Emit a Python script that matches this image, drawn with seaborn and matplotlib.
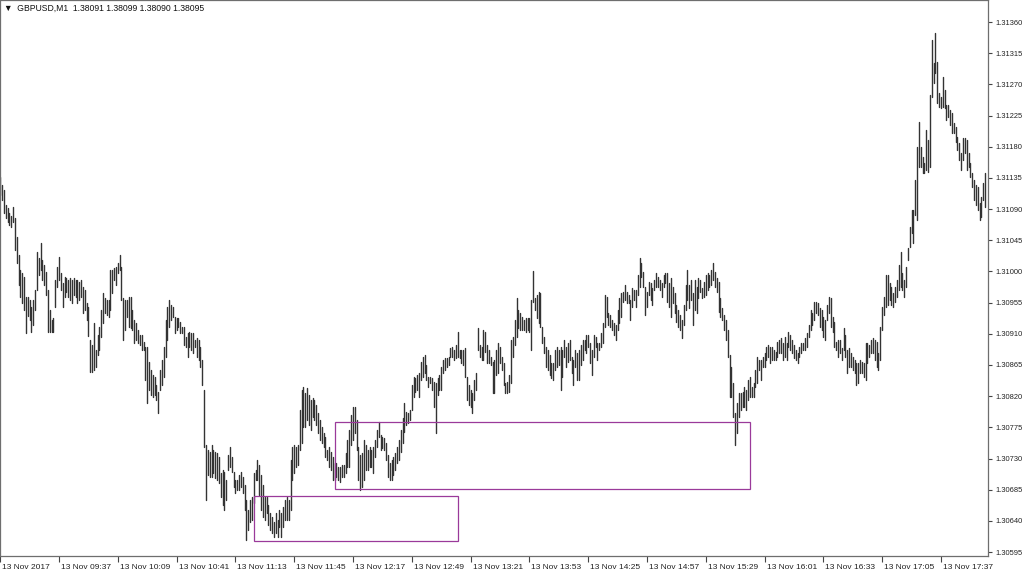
import numpy as np
import pandas as pd
import matplotlib
matplotlib.use("Agg")
import matplotlib.pyplot as plt
import matplotlib.transforms as mtransforms
from matplotlib.patches import Rectangle
import seaborn as sns

sns.set_style("ticks")
plt.rcParams['font.family'] = ['Liberation Sans', 'DejaVu Sans']

# ---------------- data (GBPUSD M1, prices as points above 1.30000) ----------------
base_price = 1.30000
point = 0.00001

high_pts = [
    1136, 1125, 1118, 1096, 1092, 1084, 1080, 1093, 1077, 1050,
    1024, 1002, 998, 992, 963, 963, 959, 949, 959, 973,
    1028, 1019, 1041, 1017, 1009, 999, 973, 944, 930, 933,
    988, 1006, 1021, 998, 983, 992, 990, 988, 990, 988,
    990, 988, 988, 985, 988, 977, 973, 954, 949, 901,
    894, 926, 887, 908, 920, 944, 969, 962, 959, 959,
    1002, 1002, 1005, 1006, 1012, 1024, 1006, 962, 959, 959,
    963, 963, 944, 930, 926, 915, 908, 908, 898, 891,
    891, 869, 858, 851, 848, 836, 826, 858, 872, 891,
    930, 949, 959, 952, 949, 934, 933, 933, 927, 920,
    920, 905, 911, 913, 911, 911, 901, 904, 901, 891,
    872, 829, 749, 742, 739, 749, 742, 739, 738, 732,
    709, 713, 710, 699, 735, 747, 732, 711, 699, 699,
    706, 710, 703, 692, 670, 656, 670, 675, 709, 713,
    728, 721, 706, 692, 675, 675, 663, 652, 646, 638,
    652, 641, 656, 651, 660, 670, 675, 670, 728, 747,
    750, 747, 750, 800, 829, 833, 824, 832, 822, 814,
    817, 814, 807, 796, 786, 775, 767, 761, 742, 747,
    739, 732, 724, 724, 718, 718, 721, 721, 738, 757,
    771, 793, 804, 804, 786, 747, 735, 738, 757, 749,
    742, 747, 742, 747, 757, 771, 783, 764, 761, 760,
    752, 735, 724, 728, 732, 738, 747, 757, 771, 788,
    810, 797, 796, 800, 836, 848, 846, 851, 853, 869,
    877, 879, 865, 848, 848, 846, 840, 839, 846, 851,
    862, 872, 875, 875, 877, 889, 891, 887, 894, 913,
    887, 887, 887, 889, 848, 836, 829, 825, 843, 853,
    918, 894, 891, 915, 913, 894, 887, 877, 869, 872,
    887, 897, 891, 877, 868, 839, 840, 851, 901, 905,
    930, 962, 944, 940, 934, 930, 933, 933, 933, 959,
    1000, 962, 966, 970, 969, 920, 905, 891, 887, 879,
    868, 868, 887, 891, 887, 891, 887, 901, 891, 897,
    901, 877, 872, 887, 882, 887, 894, 901, 901, 908,
    908, 897, 887, 908, 905, 897, 897, 911, 926, 966,
    963, 940, 937, 930, 926, 923, 944, 962, 969, 970,
    980, 970, 966, 959, 976, 973, 973, 995, 1019, 1012,
    999, 977, 970, 985, 983, 976, 988, 998, 992, 988,
    983, 995, 998, 998, 983, 990, 977, 969, 952, 944,
    937, 930, 952, 980, 1002, 980, 988, 969, 988, 977,
    990, 988, 976, 985, 995, 998, 995, 1002, 1012, 999,
    990, 985, 962, 947, 937, 930, 915, 879, 862, 839,
    796, 810, 825, 825, 826, 833, 829, 843, 848, 833,
    839, 858, 877, 872, 872, 877, 882, 891, 894, 891,
    891, 887, 884, 898, 901, 904, 897, 905, 897, 913,
    908, 901, 894, 887, 882, 891, 897, 897, 904, 911,
    923, 944, 940, 956, 956, 954, 947, 944, 934, 930,
    952, 963, 962, 934, 927, 898, 901, 901, 889, 918,
    908, 887, 889, 882, 877, 872, 868, 868, 872, 869,
    868, 897, 897, 894, 901, 904, 901, 898, 882, 920,
    949, 963, 995, 995, 983, 977, 969, 977, 988, 1009,
    1028, 998, 988, 1006, 1034, 1064, 1089, 1089, 1132, 1180,
    1216, 1180, 1165, 1157, 1204, 1190, 1254, 1334, 1301, 1344,
    1302, 1258, 1252, 1281, 1262, 1240, 1240, 1233, 1229, 1214,
    1208, 1194, 1185, 1171, 1193, 1193, 1190, 1171, 1157, 1142,
    1132, 1125, 1122, 1099, 1108, 1128, 1142,
]

low_pts = [
    1110, 1103, 1084, 1077, 1071, 1067, 1064, 1071, 1031, 1012,
    980, 963, 954, 944, 911, 935, 930, 913, 923, 944,
    973, 995, 1002, 988, 980, 966, 912, 912, 912, 913,
    949, 977, 988, 973, 949, 963, 970, 963, 959, 954,
    966, 963, 954, 959, 963, 940, 944, 930, 907, 855,
    855, 858, 862, 879, 887, 905, 926, 940, 937, 934,
    944, 969, 988, 980, 998, 1002, 959, 901, 915, 934,
    920, 918, 915, 897, 901, 897, 894, 887, 887, 843,
    810, 829, 822, 819, 822, 814, 796, 829, 836, 848,
    877, 901, 920, 930, 934, 911, 915, 920, 911, 911,
    894, 891, 877, 891, 887, 882, 891, 877, 872, 862,
    836, 747, 670, 706, 703, 703, 709, 702, 699, 695,
    675, 663, 656, 670, 713, 718, 711, 689, 680, 685,
    685, 689, 680, 656, 612, 627, 638, 641, 666, 699,
    699, 677, 656, 646, 641, 652, 634, 627, 623, 617,
    623, 617, 631, 617, 631, 641, 641, 641, 656, 699,
    709, 718, 721, 742, 752, 776, 776, 786, 778, 771,
    790, 786, 778, 767, 757, 752, 747, 732, 728, 718,
    713, 699, 699, 703, 699, 696, 703, 703, 709, 718,
    718, 749, 757, 767, 742, 699, 685, 689, 699, 713,
    713, 718, 718, 709, 732, 747, 761, 742, 745, 742,
    728, 703, 699, 699, 706, 713, 724, 728, 739, 752,
    768, 778, 781, 786, 800, 819, 826, 829, 819, 843,
    848, 853, 843, 833, 839, 829, 804, 767, 822, 829,
    829, 853, 858, 862, 865, 876, 876, 872, 875, 876,
    875, 868, 865, 848, 814, 807, 804, 796, 814, 829,
    887, 876, 872, 872, 884, 868, 868, 865, 825, 825,
    851, 853, 868, 858, 836, 825, 825, 826, 839, 876,
    894, 905, 918, 915, 915, 915, 913, 915, 913, 887,
    956, 944, 933, 926, 920, 897, 882, 862, 858, 851,
    846, 843, 858, 862, 865, 829, 848, 876, 862, 869,
    872, 853, 836, 862, 843, 843, 865, 872, 887, 882,
    891, 868, 851, 876, 891, 872, 887, 891, 897, 920,
    934, 923, 920, 915, 908, 901, 915, 926, 934, 956,
    959, 954, 954, 930, 949, 959, 949, 966, 977, 992,
    977, 937, 949, 966, 959, 952, 973, 977, 977, 973,
    963, 977, 983, 956, 949, 934, 954, 940, 927, 920,
    915, 904, 923, 944, 959, 947, 959, 923, 944, 940,
    962, 970, 962, 963, 966, 973, 977, 980, 988, 977,
    970, 941, 934, 930, 915, 901, 876, 819, 819, 790,
    750, 767, 790, 800, 804, 804, 800, 814, 819, 819,
    819, 833, 839, 858, 843, 862, 862, 872, 876, 868,
    872, 872, 872, 876, 882, 882, 872, 877, 872, 891,
    887, 882, 875, 872, 868, 876, 882, 887, 887, 891,
    905, 915, 923, 930, 940, 937, 920, 915, 905, 901,
    930, 940, 920, 913, 891, 887, 877, 882, 872, 887,
    877, 853, 862, 862, 858, 853, 836, 839, 853, 853,
    848, 843, 868, 876, 882, 882, 872, 862, 858, 872,
    915, 937, 949, 952, 959, 952, 949, 956, 963, 973,
    977, 973, 963, 977, 1017, 1035, 1055, 1041, 1081, 1074,
    1151, 1151, 1142, 1142, 1146, 1143, 1151, 1252, 1272, 1286,
    1243, 1237, 1236, 1237, 1236, 1219, 1223, 1211, 1200, 1200,
    1187, 1175, 1161, 1146, 1161, 1171, 1146, 1151, 1136, 1122,
    1103, 1096, 1089, 1074, 1079, 1103, 1093,
]

time_labels = ["13 Nov 2017", "13 Nov 09:37", "13 Nov 10:09", "13 Nov 10:41",
               "13 Nov 11:13", "13 Nov 11:45", "13 Nov 12:17", "13 Nov 12:49",
               "13 Nov 13:21", "13 Nov 13:53", "13 Nov 14:25", "13 Nov 14:57",
               "13 Nov 15:29", "13 Nov 16:01", "13 Nov 16:33", "13 Nov 17:05",
               "13 Nov 17:37"]
label_step_bars = 32

price_ticks = [1.30595, 1.30640, 1.30685, 1.30730, 1.30775, 1.30820, 1.30865,
               1.30910, 1.30955, 1.31000, 1.31045, 1.31090, 1.31135, 1.31180,
               1.31225, 1.31270, 1.31315, 1.31360]

# rectangle zones: start bar, end bar, low price, high price
zone_start = [138.1, 182.2]
zone_end = [249.1, 408.1]
zone_low = [1.30611, 1.30686]
zone_high = [1.30676, 1.30783]

header = "\u25BC  GBPUSD,M1  1.38091 1.38099 1.38090 1.38095"

# ---------------- build long-form table ----------------
n = min(len(high_pts), len(low_pts))
hi = base_price + np.array(high_pts[:n]) * point
lo = base_price + np.array(low_pts[:n]) * point
df = pd.DataFrame({
    "bar": np.repeat(np.arange(n), 2),
    "t": np.repeat(np.arange(n), 2).astype(float),
    "price": np.column_stack([hi, lo]).ravel(),
})

W, H = 1024, 574
fig = plt.figure(figsize=(W / 100, H / 100), dpi=100)
ax = fig.add_axes([0.0, 18 / H, 988 / W, 556 / H])

sns.lineplot(data=df, x="t", y="price", units="bar", estimator=None,
             color="#333333", linewidth=1.0, ax=ax, legend=False, sort=False)

for s, e, l, h in zip(zone_start, zone_end, zone_low, zone_high):
    ax.add_patch(Rectangle((s, l), e - s, h - l, fill=False,
                           edgecolor="#9a3a9a", linewidth=0.9, zorder=5))

ax.set_xlim(-0.11, 537.6)
ax.set_ylim(1.305893, 1.313918)
ax.set_xlabel("")
ax.set_ylabel("")

ax.yaxis.tick_right()
ax.set_yticks(price_ticks)
ax.set_yticklabels([f"{v:.5f}" for v in price_ticks])
ax.tick_params(axis="y", which="both", right=True, left=False, direction="out",
               length=3, width=0.8, color="#444444", labelsize=5.4,
               labelcolor="#222222", pad=2.5)

xt = [i * label_step_bars for i in range(len(time_labels))]
ax.set_xticks(xt)
ax.set_xticklabels(time_labels)
ax.tick_params(axis="x", which="both", bottom=True, direction="out", length=4,
               width=0.8, color="#444444", labelsize=6.0, labelcolor="#222222",
               pad=1.5)
offset = mtransforms.ScaledTranslation(1.5 / 72, 0, fig.dpi_scale_trans)
for lab in ax.get_xticklabels():
    lab.set_horizontalalignment("left")
    lab.set_transform(lab.get_transform() + offset)

for side in ["left", "right", "bottom", "top"]:
    ax.spines[side].set_visible(True)
    ax.spines[side].set_color("#6e6e6e")
    ax.spines[side].set_linewidth(0.9)

fig.text(4 / W, 1 - 8 / H, header, fontsize=6.2, va="center", ha="left",
         color="#111111", family=["Liberation Sans", "DejaVu Sans"])

fig.savefig("out.png", dpi=100, facecolor="white")
